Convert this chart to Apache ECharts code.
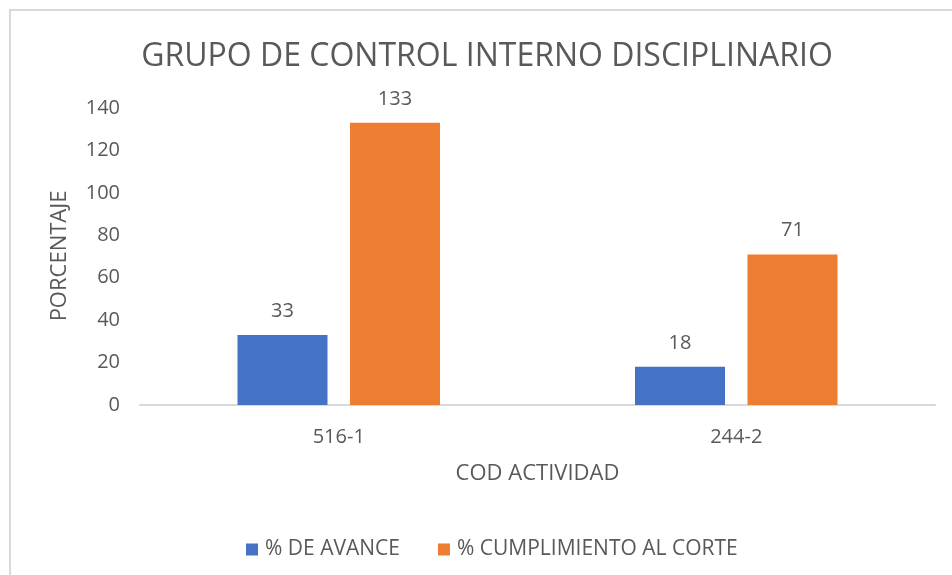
<!DOCTYPE html>
<html>
<head>
<meta charset="utf-8">
<script src="https://cdn.jsdelivr.net/npm/echarts@6/dist/echarts.min.js"></script>
<style>
  html, body { margin: 0; padding: 0; background: #fff; }
  #chart { width: 952px; height: 575px; }
</style>
</head>
<body>
<div id="chart"></div>
<script>
const categories = ['516-1', '244-2'];
const avance = [33, 18];
const cumplimiento = [133, 71];
const seriesNames = ['% DE AVANCE', '% CUMPLIMIENTO AL CORTE'];

const font = 'Open Sans';
const textColor = '#595959';

const chart = echarts.init(document.getElementById('chart'));
const option = {
  animation: false,
  textStyle: { fontFamily: font },
  title: {
    text: 'GRUPO DE CONTROL INTERNO DISCIPLINARIO',
    left: 482,
    top: 36,
    textAlign: 'center',
    textStyle: { fontFamily: font, fontSize: 32, fontWeight: 'normal', color: textColor }
  },
  graphic: [
    {
      type: 'rect',
      shape: { x: 10, y: 10, width: 1000, height: 700 },
      style: { fill: 'none', stroke: '#d9d9d9', lineWidth: 2 },
      silent: true
    },
    // y axis title
    {
      type: 'text',
      x: 60,
      y: 256,
      rotation: Math.PI / 2,
      style: {
        text: 'PORCENTAJE',
        align: 'center',
        verticalAlign: 'middle',
        fontFamily: font,
        fontSize: 22,
        fill: textColor
      },
      silent: true
    }
  ],
  legend: {
    top: 534,
    left: 241,
    itemWidth: 12,
    itemHeight: 12,
    itemGap: 38,
    icon: 'rect',
    textStyle: { fontFamily: font, fontSize: 21, color: textColor, padding: [0, 0, 0, 2] },
    data: seriesNames
  },
  grid: { left: 140, right: 17, top: 108, bottom: 170, containLabel: false },
  xAxis: {
    type: 'category',
    data: categories,
    name: 'COD ACTIVIDAD',
    nameLocation: 'middle',
    nameGap: 58,
    nameTextStyle: { fontFamily: font, fontSize: 22, color: textColor },
    axisLine: { lineStyle: { color: '#d9d9d9', width: 2 } },
    axisTick: { show: false },
    axisLabel: { fontFamily: font, fontSize: 20, color: textColor, margin: 22 }
  },
  yAxis: {
    type: 'value',
    min: 0,
    max: 140,
    interval: 20,
    axisLine: { show: false },
    axisTick: { show: false },
    splitLine: { show: false },
    axisLabel: { fontFamily: font, fontSize: 20, color: textColor, margin: 20 }
  },
  series: [
    {
      name: seriesNames[0],
      type: 'bar',
      data: avance,
      barWidth: 90,
      barGap: '25%',
      itemStyle: { color: '#4472C4' },
      label: { show: true, position: 'top', distance: 14, fontFamily: font, fontSize: 20, color: textColor }
    },
    {
      name: seriesNames[1],
      type: 'bar',
      data: cumplimiento,
      barWidth: 90,
      barGap: '25%',
      itemStyle: { color: '#ED7D31' },
      label: { show: true, position: 'top', distance: 14, fontFamily: font, fontSize: 20, color: textColor }
    }
  ]
};
chart.setOption(option);
</script>
</body>
</html>
